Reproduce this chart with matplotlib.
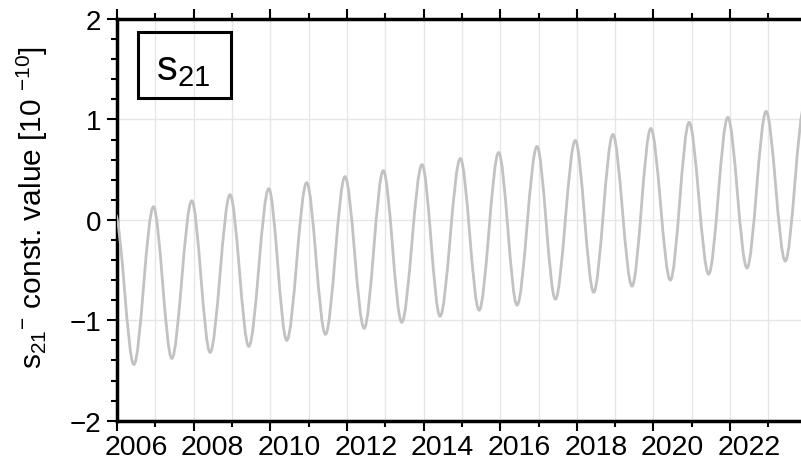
import matplotlib
matplotlib.use('Agg')
import matplotlib.pyplot as plt
from matplotlib.path import Path
from matplotlib.patches import PathPatch, Rectangle
from matplotlib.ticker import MultipleLocator
from matplotlib.transforms import blended_transform_factory

plt.rcParams['font.family'] = ['Liberation Sans', 'DejaVu Sans']
plt.rcParams['mathtext.fontset'] = 'custom'
plt.rcParams['mathtext.rm'] = 'Liberation Sans'
plt.rcParams['mathtext.it'] = 'Liberation Sans'

# maxima / minima of the annual signal (10^-10)
peak_years = [2005.95, 2006.95, 2007.95, 2008.95, 2009.96, 2010.95, 2011.95,
              2012.95, 2013.96, 2014.96, 2015.96, 2016.96, 2017.96, 2018.94,
              2019.93, 2020.93, 2021.94, 2022.94, 2023.94]
peak_values = [0.06, 0.13, 0.19, 0.25, 0.31, 0.37, 0.43, 0.49, 0.55, 0.61,
               0.67, 0.73, 0.79, 0.85, 0.91, 0.97, 1.02, 1.08, 1.14]
trough_years = [2006.44, 2007.43, 2008.43, 2009.44, 2010.43, 2011.44, 2012.45,
                2013.43, 2014.43, 2015.45, 2016.44, 2017.44, 2018.44, 2019.44,
                2020.44, 2021.44, 2022.44, 2023.44]
trough_values = [-1.44, -1.38, -1.32, -1.26, -1.20, -1.14, -1.08, -1.02, -0.96,
                 -0.90, -0.85, -0.79, -0.72, -0.66, -0.60, -0.54, -0.48, -0.41]
year_labels = [2006, 2008, 2010, 2012, 2014, 2016, 2018, 2020, 2022]

# peak, trough, peak, ... in time order
pts = []
for i in range(len(trough_years)):
    pts.append((peak_years[i], peak_values[i]))
    pts.append((trough_years[i], trough_values[i]))
pts.append((peak_years[-1], peak_values[-1]))

# smooth curve through the extrema with flat tangents at each one
verts = [pts[0]]
codes = [Path.MOVETO]
for (x0, y0), (x1, y1) in zip(pts[:-1], pts[1:]):
    dx = x1 - x0
    verts += [(x0 + dx / 3, y0), (x1 - dx / 3, y1), (x1, y1)]
    codes += [Path.CURVE4] * 3

W, H = 801, 464
fig = plt.figure(figsize=(W / 100, H / 100), dpi=100)
ax = fig.add_axes([117 / W, (H - 421.7) / H, 684 / W, 401.7 / H])

ax.add_patch(PathPatch(Path(verts, codes), fill=False, edgecolor='#c2c2c2',
                       lw=2.0, capstyle='round', zorder=3))

ax.set_xlim(2006, 2023.85)
ax.set_ylim(-2, 2)

ax.xaxis.set_major_locator(MultipleLocator(2))
ax.xaxis.set_minor_locator(MultipleLocator(1))
ax.yaxis.set_major_locator(MultipleLocator(1))
ax.yaxis.set_minor_locator(MultipleLocator(0.2))

ax.grid(True, which='major', axis='y', color='#e6e6e6', lw=1.0)
ax.grid(True, which='both', axis='x', color='#e6e6e6', lw=1.0)
ax.set_axisbelow(True)

ax.tick_params(axis='x', which='both', top=True, bottom=True,
               labelbottom=False, direction='out', width=1.5, color='black')
ax.tick_params(axis='x', which='major', length=7.5)
ax.tick_params(axis='x', which='minor', length=4)
ax.tick_params(axis='y', which='major', length=7.5, width=1.5, pad=4,
               labelsize=20)
ax.tick_params(axis='y', which='minor', length=4.3, width=1.5)

for side in ['left', 'top', 'bottom']:
    ax.spines[side].set_linewidth(2.5)
ax.spines['right'].set_visible(False)

# year labels sit in the middle of their interval
trans = blended_transform_factory(ax.transData, ax.transAxes)
for yr in year_labels:
    ax.text(yr + 0.5, -0.066, str(yr), transform=trans, ha='center',
            va='center', fontsize=20.5)

fig.text(32 / W, 1 - 207 / H,
         r'$\mathregular{s_{21}{}^{-}}$ const. value [10 $\mathregular{^{-10}}$]',
         rotation=90, ha='center', va='center', fontsize=21.5)

fig.patches.append(Rectangle((138 / W, 1 - 99 / H), 93 / W, 66 / H,
                             transform=fig.transFigure, fill=False,
                             edgecolor='black', lw=2.2, facecolor='white'))
fig.text(183.5 / W, 1 - 69 / H, r'$\mathregular{s_{21}}$', ha='center',
         va='center', fontsize=30)

fig.savefig('out.png', dpi=100)
